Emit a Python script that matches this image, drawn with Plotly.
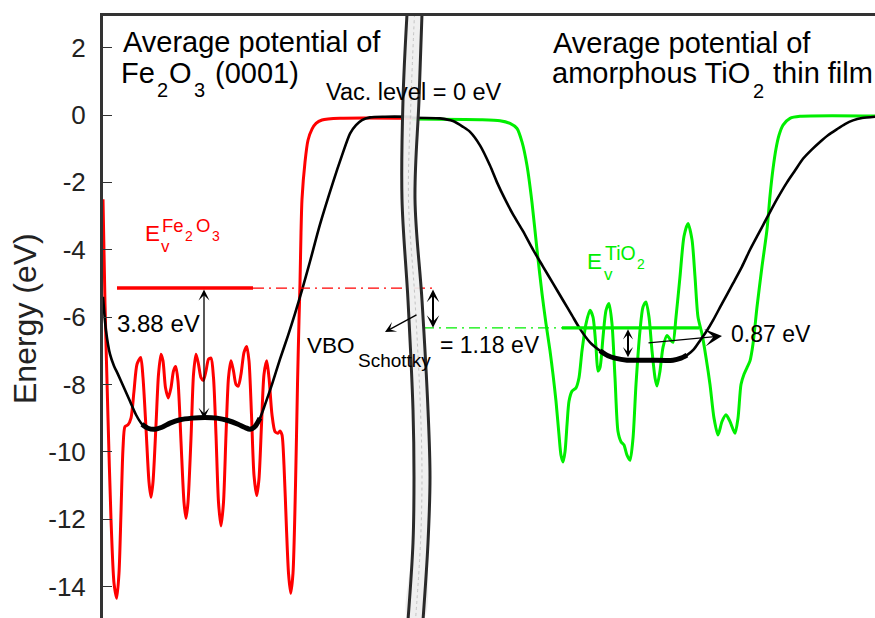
import plotly.graph_objects as go

# ---------------------------------------------------------------
# Planar / macroscopic averaged electrostatic potentials (eV)
# z: position across the two slabs (arbitrary units)
# ---------------------------------------------------------------
z_fe2o3 = [103, 105, 108, 111, 114, 116.7, 119, 121, 123, 125, 128, 131, 134, 137, 140.7,
           143, 146, 149, 151, 153, 156, 158.5, 161, 163, 165.5, 168.3, 171, 173.5, 175.7,
           178, 181, 184, 186, 188, 191, 193.5, 196, 198.5, 201, 203.3, 206, 208.5, 211,
           213.5, 216, 218.5, 221, 223.5, 226, 228.5, 231, 233.5, 236, 238.3, 241, 244, 246.7,
           249, 251.5, 254, 256.7, 259, 261.5, 264, 266.7, 269, 272, 275, 278, 280, 282,
           284, 286.5, 288.5, 290.7, 293, 295.5, 297.5, 299, 300, 301, 302, 305, 308, 312,
           316, 322, 340, 412]
v_fe2o3_planar = [-2.5, -5.6, -9.0, -12.0, -13.9, -14.35, -13.6, -11.8, -9.9, -9.25, -9.2, -9.0,
                  -8.2, -7.4, -7.2, -7.8, -9.3, -10.9, -11.35, -10.9, -9.2, -7.7, -7.1, -7.3,
                  -8.1, -8.4, -8.1, -7.6, -7.47, -7.9, -9.7, -11.5, -11.98, -11.5, -9.6, -7.7,
                  -7.1, -7.4, -7.8, -7.88, -7.6, -7.25, -7.22, -7.8, -9.5, -11.5, -12.2, -11.5,
                  -9.5, -7.8, -7.3, -7.6, -8.0, -8.05, -7.7, -7.05, -6.87, -7.3, -8.9, -10.7,
                  -11.3, -10.8, -9.2, -7.7, -7.3, -7.8, -8.9, -9.4, -9.45, -9.38, -9.5, -10.4,
                  -12.3, -13.6, -14.2, -13.6, -11.0, -8.0, -6.1, -5.0, -3.5, -2.5, -1.4, -0.75,
                  -0.42, -0.25, -0.15, -0.1, -0.1]

z_fe2o3_macro = [103, 106, 110, 114, 118, 124, 130, 136, 142, 148, 155, 162, 170, 180, 192, 205,
                 217, 228, 238, 245, 250, 255, 260, 265, 272, 280, 288, 295, 302, 310, 320, 333,
                 342, 350, 356, 362, 370, 385, 412]
v_fe2o3_macro = [-5.4, -6.4, -7.1, -7.45, -7.7, -8.1, -8.5, -8.9, -9.18, -9.3, -9.33, -9.27,
                 -9.15, -9.05, -9.0, -8.98, -9.0, -9.07, -9.18, -9.28, -9.33, -9.25, -9.0, -8.6,
                 -8.0, -7.25, -6.55, -5.9, -5.2, -4.35, -3.25, -2.0, -1.2, -0.55, -0.3, -0.15,
                 -0.07, -0.05, -0.05]

z_tio2 = [412, 480, 500, 510, 517, 522, 527, 532, 537, 542, 546, 550, 553, 556, 559, 561, 563,
          565, 567, 569, 572, 576, 579, 582, 586, 590, 593, 596, 598, 600, 603, 606, 609, 612,
          615, 618, 621, 624, 627, 630, 633, 636, 640, 643, 646, 649, 652, 655, 657, 660, 663,
          667, 671, 673, 676, 680, 684, 688, 692, 695, 698, 702, 706, 710, 714, 718, 722, 726,
          730, 735, 738, 741, 744, 747, 750, 753, 757, 762, 767, 770, 773, 776, 779, 783, 790,
          800, 875]
v_tio2_planar = [-0.12, -0.14, -0.17, -0.25, -0.4, -0.8, -1.5, -2.6, -4.0, -5.3, -6.2, -7.0,
                 -7.7, -8.5, -9.5, -10.1, -10.3, -10.0, -9.2, -8.5, -8.2, -8.1, -7.8, -7.0, -6.2,
                 -5.8, -6.0, -6.9, -7.6, -7.5, -6.6, -5.8, -5.6, -6.2, -7.8, -9.4, -9.7, -9.8,
                 -10.1, -10.25, -9.6, -8.0, -6.4, -5.7, -5.55, -6.0, -7.0, -7.8, -8.05, -7.6,
                 -6.9, -6.55, -6.7, -6.75, -6.0, -4.8, -3.6, -3.22, -3.7, -4.8, -6.0, -6.5, -7.2,
                 -8.0, -9.0, -9.5, -9.1, -8.9, -9.1, -9.45, -9.0, -8.0, -7.7, -7.5, -7.3, -6.8,
                 -5.7, -4.5, -3.4, -2.4, -1.6, -1.0, -0.6, -0.3, -0.1, -0.04, -0.03]

z_tio2_macro = [412, 440, 453, 463, 470, 480, 490, 497, 505, 513, 523, 533, 543, 553, 563, 572,
                580, 590, 600, 608, 615, 627, 650, 673, 681, 687, 694, 700, 707, 713, 722, 733,
                742, 750, 758, 767, 777, 787, 795, 803, 812, 820, 828, 837, 845, 853, 862, 875]
v_tio2_macro = [-0.08, -0.1, -0.18, -0.35, -0.5, -0.9, -1.5, -2.0, -2.5, -2.95, -3.45, -4.0,
                -4.5, -5.0, -5.5, -5.95, -6.35, -6.75, -7.0, -7.15, -7.22, -7.28, -7.28, -7.28,
                -7.22, -7.13, -6.95, -6.7, -6.4, -6.1, -5.6, -5.0, -4.5, -4.0, -3.55, -3.05,
                -2.5, -2.0, -1.65, -1.3, -1.02, -0.8, -0.6, -0.42, -0.27, -0.16, -0.09, -0.05]

# band alignment (eV)
ev_fe2o3 = -5.14
vbo_schottky = 1.18
ev_tio2 = round(ev_fe2o3 - vbo_schottky, 2)
ev_to_avg_fe2o3 = 3.88
ev_to_avg_tio2 = 0.87

y_tick_vals = [2, 0, -2, -4, -6, -8, -10, -12, -14]
y_tick_text = ["2", "0", "-2", "-4", "-6", "-8", "-10", "-12", "-14"]

# outline of the axis break between the two slabs
break_y = [3.0, 0.45, -2.5, -5.5, -8.75, -10.75, -12.7, -15.0]
break_left = [407, 403, 402, 408, 413, 414, 413, 408]
break_right = [422, 419, 415, 422, 428, 430, 428, 423]

# ---------------------------------------------------------------
W, H = 875, 618
ML, MT = 103, 16
PX_E0 = 115.0      # pixel row of E = 0
PX_PER_EV = 33.68
FONT = "Liberation Sans, Arial, Helvetica, sans-serif"
RED = "#ff0000"
GREEN = "#00ee00"


def yv(py):
    """energy value at a given pixel row"""
    return (PX_E0 - py) / PX_PER_EV


fig = go.Figure()

# planar averages
fig.add_trace(go.Scatter(x=z_fe2o3, y=v_fe2o3_planar, mode="lines",
                         line=dict(color=RED, width=3, shape="spline", smoothing=0.7)))
fig.add_trace(go.Scatter(x=z_tio2, y=v_tio2_planar, mode="lines",
                         line=dict(color=GREEN, width=3, shape="spline", smoothing=0.7)))

# macroscopic averages (bolder across the bulk-like region)
for zz, vv, lo, hi in [(z_fe2o3_macro, v_fe2o3_macro, 142, 263),
                       (z_tio2_macro, v_tio2_macro, 600, 687)]:
    fig.add_trace(go.Scatter(x=zz, y=vv, mode="lines",
                             line=dict(color="black", width=2.6, shape="spline", smoothing=0.7)))
    sel = [(a, b) for a, b in zip(zz, vv) if lo <= a <= hi]
    fig.add_trace(go.Scatter(x=[a for a, _ in sel], y=[b for _, b in sel], mode="lines",
                             line=dict(color="black", width=5, shape="spline", smoothing=0.7)))

# valence band edges
DASHDOT = "11px,5px,2px,5px"
fig.add_trace(go.Scatter(x=[117, 253], y=[ev_fe2o3] * 2, mode="lines",
                         line=dict(color=RED, width=3.5)))
fig.add_trace(go.Scatter(x=[253, 436], y=[ev_fe2o3] * 2, mode="lines",
                         line=dict(color=RED, width=1.3, dash=DASHDOT)))
fig.add_trace(go.Scatter(x=[423, 562], y=[ev_tio2] * 2, mode="lines",
                         line=dict(color=GREEN, width=1.3, dash=DASHDOT)))
fig.add_trace(go.Scatter(x=[562, 699], y=[ev_tio2] * 2, mode="lines",
                         line=dict(color=GREEN, width=3.2)))

# axis break band
fig.add_trace(go.Scatter(x=break_left + break_right[::-1], y=break_y + break_y[::-1],
                         mode="lines", fill="toself", fillcolor="rgba(238,238,238,0.93)",
                         line=dict(width=0, shape="spline")))
fig.add_trace(go.Scatter(x=[(a + b) / 2 for a, b in zip(break_left, break_right)], y=break_y,
                         mode="lines", line=dict(color="#c4c4c4", width=1, dash="dot",
                                                  shape="spline")))
for edge in (break_left, break_right):
    fig.add_trace(go.Scatter(x=edge, y=break_y, mode="lines",
                             line=dict(color="#2a2a2a", width=3, shape="spline")))


def label(s, x, base, size, color="black"):
    return dict(text=s, x=x, y=yv(base - 0.3465 * size), xref="x", yref="y",
                xanchor="left", yanchor="middle", showarrow=False,
                font=dict(family=FONT, size=size, color=color),
                borderpad=0, borderwidth=0)


def arrow(x, y, ax, ay, width, size, both=False):
    d = dict(x=x, y=y, ax=ax, ay=ay, xref="x", yref="y", axref="x", ayref="y",
             text="", showarrow=True, arrowhead=3, arrowsize=size, arrowwidth=width,
             arrowcolor="black", standoff=0)
    if both:
        d.update(arrowside="end+start", startarrowhead=3, startarrowsize=size, startstandoff=0)
    return d


ann = []
# panel headings
ann.append(label("Average potential of", 122.5, 52.5, 29))
ann.append(label("Fe", 121, 83, 29))
ann.append(label("2", 156.5, 97, 20))
ann.append(label("O", 169, 83, 29))
ann.append(label("3", 193.5, 97, 20))
ann.append(label("(0001)", 215, 83, 29))
ann.append(label("Average potential of", 552.5, 53, 29))
ann.append(label("amorphous TiO", 551.7, 83.3, 29))
ann.append(label("2", 753, 97.5, 20))
ann.append(label("thin film", 773, 83.3, 29))
ann.append(label("Vac. level = 0 eV", 326, 100.5, 23.5))

# valence band labels
ann.append(label("E", 144.5, 241, 22.5, RED))
ann.append(label("v", 161, 252, 17, RED))
ann.append(label("Fe", 161.5, 232, 18.5, RED))
ann.append(label("2", 185, 241, 14, RED))
ann.append(label("O", 196, 232, 18.5, RED))
ann.append(label("3", 211.5, 241, 14, RED))
ann.append(label("E", 586.5, 269.3, 22.5, GREEN))
ann.append(label("v", 604, 280, 17, GREEN))
ann.append(label("TiO", 604.5, 259.3, 19.5, GREEN))
ann.append(label("2", 636.5, 269.3, 14, GREEN))

# offsets
ann.append(label("3.88 eV", 117, 332, 24))
ann.append(label("VBO", 306.5, 353.3, 22.5))
ann.append(label("Schottky", 357.5, 366.7, 19))
ann.append(label("= 1.18 eV", 439.5, 353.3, 23))
ann.append(label("0.87 eV", 730.5, 342.3, 23))

ann.append(arrow(204, ev_fe2o3 - ev_to_avg_fe2o3, 204, ev_fe2o3, 1.3, 1.4, both=True))
ann.append(arrow(433, ev_fe2o3 - vbo_schottky, 433, ev_fe2o3, 2.0, 1.05, both=True))
ann.append(arrow(628, ev_tio2 - ev_to_avg_tio2, 628, ev_tio2, 2.0, 0.85, both=True))
ann.append(arrow(385, yv(332), 418, yv(314), 1.3, 1.4))
ann.append(arrow(722, yv(336), 647, yv(343), 1.3, 2.2))

# y-axis title
ann.append(dict(text="Energy (eV)", xref="paper", yref="paper",
                x=(25 - ML) / (W - ML), y=1 - (319 - MT) / (H - MT),
                xanchor="center", yanchor="middle", textangle=-90, showarrow=False,
                font=dict(family=FONT, size=32, color="#222")))

fig.update_layout(
    width=W, height=H,
    margin=dict(l=ML, r=0, t=MT, b=0),
    plot_bgcolor="white", paper_bgcolor="white",
    showlegend=False,
    annotations=ann,
    xaxis=dict(range=[ML, W], side="top", showline=True, linewidth=3, linecolor="#333",
               ticks="", showticklabels=False, showgrid=False, zeroline=False),
    yaxis=dict(range=[yv(H), yv(MT)], showline=True, linewidth=3, linecolor="#333",
               ticks="inside", ticklen=9, tickwidth=1.2, tickcolor="#333",
               tickvals=y_tick_vals, ticktext=y_tick_text, ticklabelstandoff=9,
               tickfont=dict(family=FONT, size=26, color="#222"),
               showgrid=False, zeroline=False),
)

fig.write_html("out.html")
